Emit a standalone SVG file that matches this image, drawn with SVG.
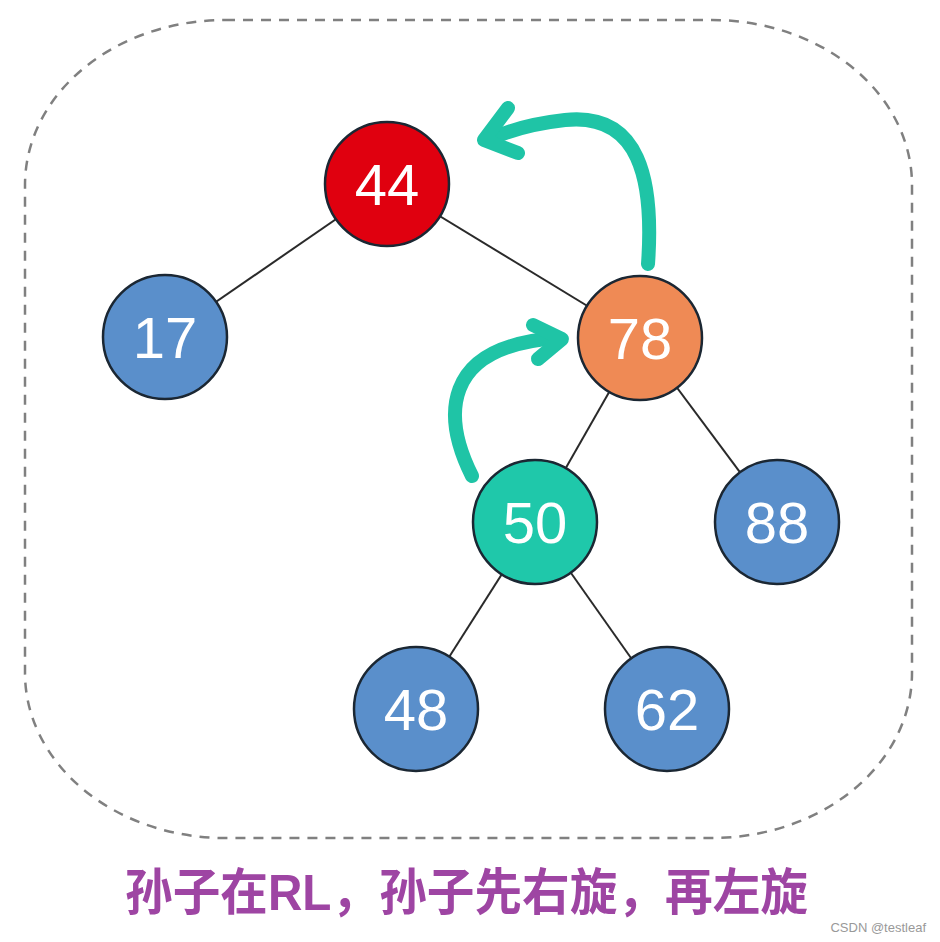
<svg xmlns="http://www.w3.org/2000/svg" width="940" height="942" viewBox="0 0 940 942">
<style>
.node{stroke:#1b2733;stroke-width:2.5}
.lbl{font-family:"Liberation Sans",Arial,sans-serif;font-size:58px;fill:#fff;text-anchor:middle}
.edge{stroke:#2a2a2a;stroke-width:2}
.arr{fill:none;stroke:#1fc4a6;stroke-width:14;stroke-linecap:round;stroke-linejoin:round}
</style>
<rect width="940" height="942" fill="#ffffff"/>
<rect x="25" y="20" width="887" height="818" rx="200" ry="165" fill="none" stroke="#808080" stroke-width="2.5" stroke-dasharray="10 8"/>
<g id="connectors">
<line class="edge" x1="387" y1="184" x2="165" y2="337"/>
<line class="edge" x1="387" y1="184" x2="640" y2="338"/>
<line class="edge" x1="640" y1="338" x2="535" y2="522"/>
<line class="edge" x1="640" y1="338" x2="777" y2="522"/>
<line class="edge" x1="535" y1="522" x2="416" y2="709"/>
<line class="edge" x1="535" y1="522" x2="667" y2="709"/>
<path class="arr" d="M648 264 C654 180 640 112 565 120 Q520 125 488 140"/>
<path class="arr" d="M508 108 L484 140 L518 153"/>
<path class="arr" d="M472 476 C444 420 438 346 558 338"/>
<path class="arr" d="M533 325 L562 339 L538 359"/>
</g>
<g id="n44"><circle class="node" cx="387" cy="184" r="62" fill="#e0000f"/><text class="lbl" x="387" y="205">44</text></g>
<g id="n17"><circle class="node" cx="165" cy="337" r="62" fill="#5a8fcb"/><text class="lbl" x="165" y="358">17</text></g>
<g id="n78"><circle class="node" cx="640" cy="338" r="62" fill="#ef8a55"/><text class="lbl" x="640" y="359">78</text></g>
<g id="n50"><circle class="node" cx="535" cy="522" r="62" fill="#1fc8aa"/><text class="lbl" x="535" y="543">50</text></g>
<g id="n88"><circle class="node" cx="777" cy="522" r="62" fill="#5a8fcb"/><text class="lbl" x="777" y="543">88</text></g>
<g id="n48"><circle class="node" cx="416" cy="709" r="62" fill="#5a8fcb"/><text class="lbl" x="416" y="730">48</text></g>
<g id="n62"><circle class="node" cx="667" cy="709" r="62" fill="#5a8fcb"/><text class="lbl" x="667" y="730">62</text></g>
<text x="125" y="910" textLength="683" lengthAdjust="spacingAndGlyphs" style="font-family:'Liberation Sans','Noto Sans CJK SC',sans-serif;font-size:50px;font-weight:bold;fill:#9e45a3">孙子在RL，孙子先右旋，再左旋</text>
<text x="926" y="932" text-anchor="end" style="font-family:'Liberation Sans',Arial,sans-serif;font-size:13px;fill:#999">CSDN @testleaf</text>
</svg>
